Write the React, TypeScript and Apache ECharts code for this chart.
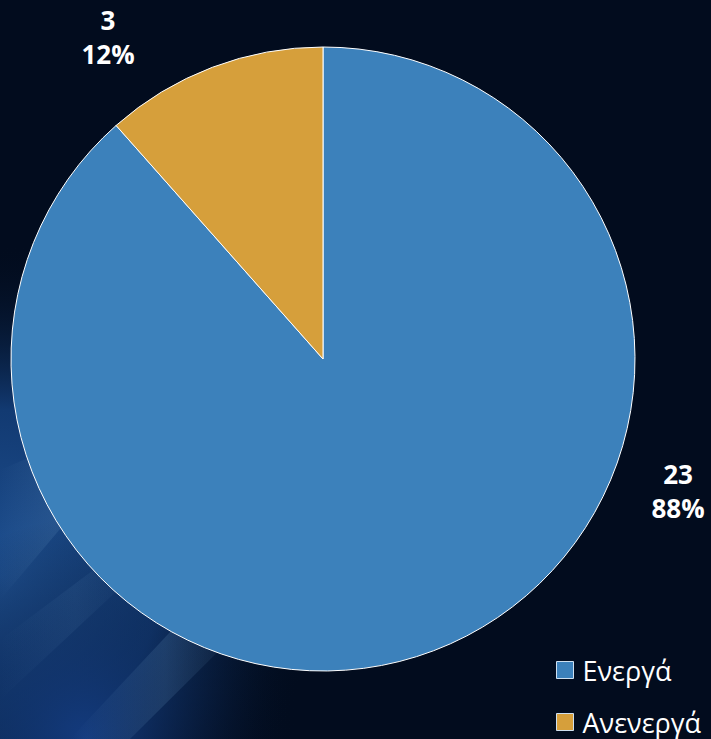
import React, { useEffect, useRef } from "react";
import * as echarts from "echarts";

const categories = ["Ενεργά", "Ανενεργά"];
const values = [23, 3];
const colors = ["#3c81bb", "#d69f3b"];

export default function App() {
  const ref = useRef<HTMLDivElement>(null);
  useEffect(() => {
    document.body.style.margin = "0";
    const chart = echarts.init(ref.current!, undefined, { renderer: "svg" });
    const band = (pts: number[][], op: number) => ({
      type: "polygon",
      silent: true,
      z: -9,
      shape: { points: pts },
      style: {
        fill: {
          type: "linear",
          x: 0,
          y: 0,
          x2: 1,
          y2: 0,
          colorStops: [
            { offset: 0, color: "rgba(120,170,210,0)" },
            { offset: 0.5, color: `rgba(120,170,210,${op})` },
            { offset: 1, color: "rgba(120,170,210,0)" },
          ],
        },
      },
    });
    chart.setOption({
      animation: false,
      backgroundColor: "#020c1e",
      graphic: [
        {
          type: "rect",
          silent: true,
          z: -10,
          shape: { x: 0, y: 0, width: 711, height: 739 },
          style: {
            fill: {
              type: "radial",
              x: 0,
              y: 0.78,
              r: 0.45,
              colorStops: [
                { offset: 0, color: "#1f5192" },
                { offset: 0.5, color: "#123a72" },
                { offset: 1, color: "rgba(2,12,30,0)" },
              ],
            },
          },
        },
        {
          type: "rect",
          silent: true,
          z: -10,
          shape: { x: 0, y: 0, width: 711, height: 739 },
          style: {
            fill: {
              type: "radial",
              x: 0.12,
              y: 1,
              r: 0.3,
              colorStops: [
                { offset: 0, color: "rgba(20,60,130,0.9)" },
                { offset: 1, color: "rgba(2,12,30,0)" },
              ],
            },
          },
        },
        band([[0, 470], [0, 600], [110, 470], [70, 440]], 0.14),
        band([[70, 739], [130, 739], [260, 610], [200, 600]], 0.16),
        band([[0, 640], [0, 700], [150, 560], [120, 550]], 0.08),
      ],
      legend: {
        orient: "vertical",
        left: 556,
        top: 656,
        height: 90,
        padding: 0,
        itemWidth: 17,
        itemHeight: 17,
        itemGap: 24,
        icon: "rect",
        itemStyle: { borderColor: "#cfe0f0", borderWidth: 1 },
        textStyle: {
          color: "#ffffff",
          fontSize: 27,
          lineHeight: 28,
          fontFamily: "Open Sans",
          padding: [0, 0, 0, 4],
        },
        data: categories,
      },
      series: [
        {
          type: "pie",
          center: [323, 359],
          radius: 312,
          startAngle: 90,
          clockwise: true,
          color: colors,
          itemStyle: { borderColor: "#ffffff", borderWidth: 1 },
          emphasis: { disabled: true },
          label: {
            show: true,
            position: "outside",
            color: "#ffffff",
            fontSize: 26,
            fontWeight: "bold",
            lineHeight: 34,
            fontFamily: "Open Sans",
            align: "center",
            formatter: (p: any) => `${p.value}\n${Math.round(p.percent)}%`,
          },
          labelLine: { show: false },
          labelLayout: (params: any) => {
            if (params.dataIndex === 0) {
              return { x: 678, y: 491, align: "center", verticalAlign: "middle" };
            }
            return { x: 108, y: 37, align: "center", verticalAlign: "middle" };
          },
          data: categories.map((name, i) => ({ name, value: values[i] })),
        },
      ],
    });
    return () => chart.dispose();
  }, []);
  return <div ref={ref} style={{ width: 711, height: 739, position: "fixed", left: 0, top: 0 }} />;
}
